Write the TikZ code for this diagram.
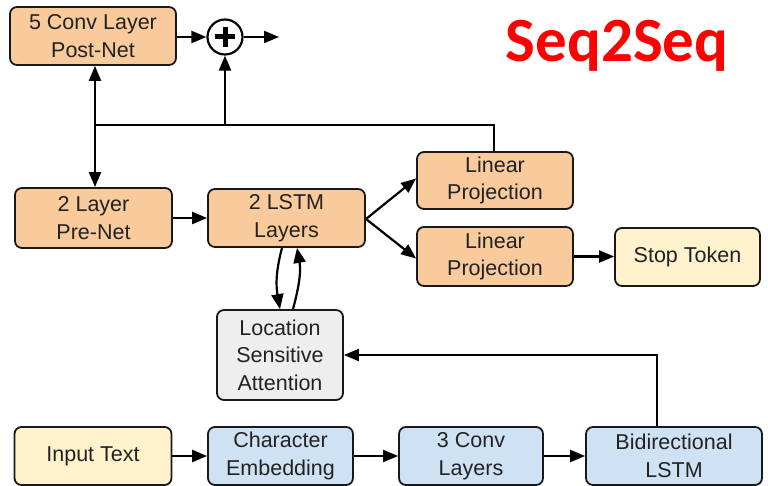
\documentclass[tikz,border=0pt]{standalone}
\usepackage{fontspec}
\setmainfont{Liberation Sans}
\newfontfamily\titlefont{Carlito}
\usetikzlibrary{arrows.meta}
\definecolor{peach}{HTML}{F9CB9C}
\definecolor{paleblue}{HTML}{CFE2F3}
\definecolor{paleyellow}{HTML}{FFF2CC}
\definecolor{palegray}{HTML}{EEEEEE}
\definecolor{inkgray}{HTML}{222222}
\tikzset{
  blk/.style={draw=black!90, line width=1.8pt, rounded corners=7pt, align=center,
    inner sep=0pt, text=inkgray, font=\fontsize{21.5}{27.5}\selectfont},
  dec/.style={blk, fill=peach},
  enc/.style={blk, fill=paleblue},
  io/.style={blk, fill=paleyellow},
  att/.style={blk, fill=palegray},
  wire/.style={line width=2.2pt, black},
  arr/.style={wire, -{Triangle[length=15pt,width=12pt]}},
}
\begin{document}
\begin{tikzpicture}[x=1pt,y=-1pt]
\useasboundingbox[fill=white] (0,0) rectangle (768,486);

% decoder side
\node[dec, minimum width=166, minimum height=58] (post) at (93,36) {5 Conv Layer\\Post-Net};
\node[dec, minimum width=157, minimum height=60] (pre) at (93.5,218) {2 Layer\\Pre-Net};
\node[dec, minimum width=157, minimum height=58] (lstm) at (286.5,218) {2 LSTM\\Layers};
\node[dec, minimum width=156, minimum height=57] (lin1) at (495,180.5) {Linear\\Projection};
\node[dec, minimum width=156, minimum height=59] (lin2) at (495,256.5) {Linear\\Projection};
\node[io, minimum width=145, minimum height=58] (stop) at (687.5,257) {Stop Token};
\node[att, minimum width=126, minimum height=90] (attn) at (280,355) {Location\\Sensitive\\Attention};

% encoder side
\node[io, minimum width=157, minimum height=58] (inp) at (93,456) {Input Text};
\node[enc, minimum width=145, minimum height=58] (emb) at (280.5,456) {Character\\Embedding};
\node[enc, minimum width=144, minimum height=58] (conv) at (471,456) {3 Conv\\Layers};
\node[enc, minimum width=176, minimum height=58] (bilstm) at (674,456) {Bidirectional\\LSTM};

% residual sum
\node[circle, draw, line width=2.2pt, minimum size=35, inner sep=0pt] (plus) at (225,37) {};
\draw[line width=5pt] ([xshift=-10]plus.center) -- ([xshift=10]plus.center);
\draw[line width=5pt] ([yshift=-10]plus.center) -- ([yshift=10]plus.center);
\coordinate (out) at (279,37);

% title
\node[text=red, font=\titlefont\bfseries\fontsize{63}{63}\selectfont, anchor=center] (title) at (617,46) {Seq2Seq};

% feedback bus
\coordinate (j) at (95,125);
\coordinate (k) at (225,125);
\coordinate (m) at (494,125);

\draw[arr] (post.east |- plus) -- (plus.west);
\draw[arr] (plus.east) -- (out);
\draw[wire] (lin1.north -| m) -- (m) -- (j);
\draw[arr] (j) -- (post.south -| j);
\draw[arr] (j) -- (pre.north -| j);
\draw[arr] (k) -- (plus.south);

\draw[arr] (pre.east) -- (lstm.west);
\coordinate (fork) at (366,219);
\draw[arr] (fork) -- ([yshift=2]lin1.west);
\draw[arr] (fork) -- ([yshift=-2]lin2.west);
\draw[arr] (lin2.east) -- (lin2.east -| stop.west);

% attention loop
\draw[arr] ([xshift=-4.5]lstm.south) to[out=-105,in=100] (attn.north);
\draw[arr] ([xshift=13]attn.north) to[out=75,in=-80] ([xshift=10.5]lstm.south);

% encoder chain
\draw[arr] (inp.east) -- (emb.west);
\draw[arr] (emb.east) -- (conv.west);
\draw[arr] (conv.east) -- (bilstm.west);
\coordinate (up) at (657,355);
\draw[arr] (bilstm.north -| up) -- (up) -- (attn.east |- up);
\end{tikzpicture}
\end{document}
